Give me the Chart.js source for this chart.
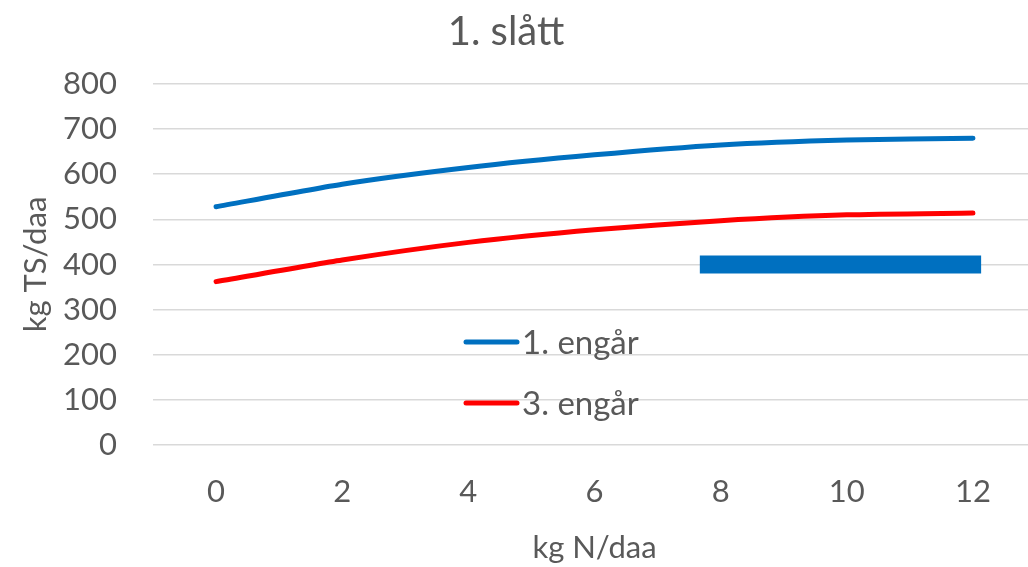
<!DOCTYPE html>
<html><head><meta charset="utf-8">
<script src="https://cdn.jsdelivr.net/npm/chart.js@4.4.1/dist/chart.umd.min.js"></script>
<style>
html,body{margin:0;padding:0;overflow:hidden;background:#fff;width:1028px;height:567px}
#wrap{width:1036px;height:567px}
</style></head>
<body><div id="wrap"><canvas id="c" width="1036" height="567"></canvas></div>
<script>
const titleText = '1. slått';
const xTitle = 'kg N/daa';
const yTitle = 'kg TS/daa';
const categories = [0, 2, 4, 6, 8, 10, 12];
const series1Name = '1. engår';
const series1 = [528, 578, 615, 643, 665, 676, 680];
const series2Name = '3. engår';
const series2 = [362, 410, 449, 477, 497, 510, 514];
const yTicks = [0, 100, 200, 300, 400, 500, 600, 700, 800];
const barX = [7.67, 12.13];
const barY = [400, 400];

const FONT = 'Lato, "Open Sans", sans-serif';
const TXT = '#595959';
const BLUE = '#0070C0';
const RED = '#FF0000';

const overlay = {
  id: 'overlay',
  afterDraw(chart) {
    const ctx = chart.ctx;
    ctx.save();
    ctx.fillStyle = TXT;
    ctx.textBaseline = 'middle';
    ctx.textAlign = 'center';
    ctx.font = '40px ' + FONT;
    ctx.fillText(titleText, 506, 32);
    const items = [
      {text: series1Name, color: BLUE, y: 342},
      {text: series2Name, color: RED, y: 403}
    ];
    ctx.lineWidth = 5;
    ctx.lineCap = 'round';
    ctx.textAlign = 'left';
    ctx.font = '33px ' + FONT;
    items.forEach(it => {
      ctx.strokeStyle = it.color;
      ctx.beginPath();
      ctx.moveTo(466, it.y);
      ctx.lineTo(517, it.y);
      ctx.stroke();
      ctx.fillText(it.text, 522, it.y + 1);
    });
    ctx.restore();
  }
};

new Chart(document.getElementById('c'), {
  type: 'line',
  data: {
    datasets: [
      {
        label: series1Name,
        data: categories.map((x, i) => ({x, y: series1[i]})),
        borderColor: BLUE, backgroundColor: BLUE,
        borderWidth: 5, pointRadius: 0, tension: 0.2,
        borderCapStyle: 'round', borderJoinStyle: 'round'
      },
      {
        label: series2Name,
        data: categories.map((x, i) => ({x, y: series2[i]})),
        borderColor: RED, backgroundColor: RED,
        borderWidth: 5, pointRadius: 0, tension: 0.2,
        borderCapStyle: 'round', borderJoinStyle: 'round'
      },
      {
        label: 'bar',
        data: barX.map((x, i) => ({x, y: barY[i]})),
        borderColor: BLUE, backgroundColor: BLUE,
        borderWidth: 18, pointRadius: 0, borderCapStyle: 'butt'
      }
    ]
  },
  options: {
    responsive: false,
    animation: false,
    devicePixelRatio: 1,
    layout: {padding: {top: 84, left: 0, right: 0, bottom: 0}},
    plugins: {legend: {display: false}, title: {display: false}, tooltip: {enabled: false}},
    scales: {
      x: {
        type: 'linear', min: -1, max: 13,
        afterBuildTicks: ax => { ax.ticks = categories.map(v => ({value: v})); },
        afterFit: ax => { ax.height = 122; },
        grid: {display: false, drawTicks: false},
        border: {display: false},
        ticks: {font: {family: FONT, size: 31}, color: TXT, padding: 28, maxRotation: 0, autoSkip: false},
        title: {display: true, text: xTitle, font: {family: FONT, size: 31}, color: TXT, padding: {top: 0, bottom: 0}}
      },
      y: {
        min: 0, max: 800,
        afterBuildTicks: ax => { ax.ticks = yTicks.map(v => ({value: v})); },
        afterFit: ax => { ax.width = 153; },
        grid: {color: '#d9d9d9', lineWidth: 1.6, drawTicks: false},
        border: {display: false},
        ticks: {font: {family: FONT, size: 31}, color: TXT, padding: 36},
        title: {display: true, text: yTitle, font: {family: FONT, size: 31}, color: TXT, padding: {top: 17, bottom: 17}}
      }
    }
  },
  plugins: [overlay]
});
</script>
</body></html>
